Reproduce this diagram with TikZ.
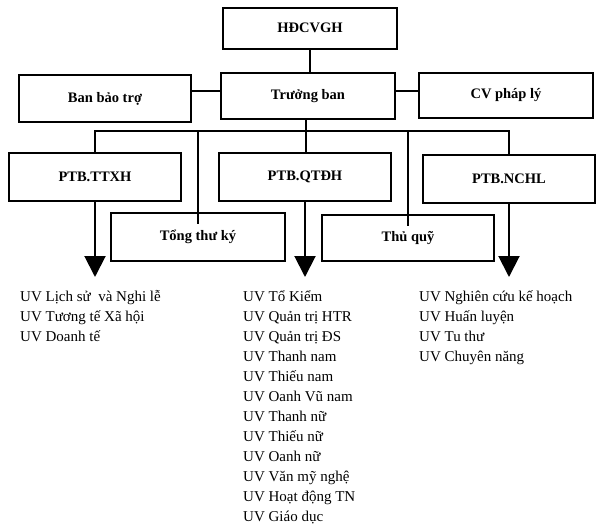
\documentclass[tikz,border=0pt]{standalone}
\usepackage{fontspec}
\setmainfont{Liberation Serif}
\usetikzlibrary{arrows.meta}
\begin{document}
\begin{tikzpicture}[x=1pt,y=-1pt,
  box/.style={draw,line width=2pt,rectangle,inner sep=0pt,font=\fontsize{14.5}{17}\selectfont\bfseries},
  conn/.style={line width=2pt},
  arr/.style={line width=2pt,-{Triangle[length=21pt,width=21pt]}},
  item/.style={anchor=base west,inner sep=0pt,font=\fontsize{15}{20}\selectfont}]
\useasboundingbox (0,0) rectangle (597,530);
% boxes
\node[box,minimum width=174pt,minimum height=41pt] (hd) at (310,28) {HĐCVGH};
\node[box,minimum width=174pt,minimum height=46pt] (tb) at (308,96) {Trưởng ban};
\node[box,minimum width=172pt,minimum height=47pt] (bbt) at (105,98.5) {Ban bảo trợ};
\node[box,minimum width=174pt,minimum height=45pt] (cv) at (506,95.5) {CV pháp lý};
\node[box,minimum width=172pt,minimum height=48pt] (ttxh) at (95,177) {PTB.TTXH};
\node[box,minimum width=172pt,minimum height=48pt] (qtdh) at (305,177) {PTB.QTĐH};
\node[box,minimum width=172pt,minimum height=48pt] (nchl) at (509,179) {PTB.NCHL};
\node[box,minimum width=174pt,minimum height=48pt] (tk) at (198,237) {Tổng thư ký};
\node[box,minimum width=172pt,minimum height=46pt] (tq) at (408,238) {Thủ quỹ};
% connectors
\coordinate (bus) at (306,131);
\coordinate (tipline) at (0,277);
\draw[conn] (hd.south) -- (hd.south |- tb.north);
\path ([yshift=5pt]tb.west) coordinate (tbw) ([yshift=5pt]tb.east) coordinate (tbe);
\draw[conn] (tbw) -- (tbw -| bbt.east);
\draw[conn] (tbe) -- (tbe -| cv.west);
\draw[conn] (tb.south -| bus) -- (qtdh.north -| bus);
\draw[conn] (ttxh.north) |- (bus) -| (nchl.north);
\draw[conn] (bus -| tk.north) -- ([yshift=-12pt]tk.north);
\draw[conn] (bus -| tq.north) -- ([yshift=-12pt]tq.north);
\draw[arr] (ttxh.south) -- (ttxh.south |- tipline);
\draw[arr] (qtdh.south) -- (qtdh.south |- tipline);
\draw[arr] (nchl.south) -- (nchl.south |- tipline);
% lists
\foreach \t [count=\i] in {UV Lịch sử\ \ và Nghi lễ, UV Tương tế Xã hội, UV Doanh tế}
  \node[item] (l\i) at (20,{281+20*\i}) {\t};
\foreach \t [count=\i] in {UV Tổ Kiểm, UV Quản trị HTR, UV Quản trị ĐS, UV Thanh nam, UV Thiếu nam, UV Oanh Vũ nam, UV Thanh nữ, UV Thiếu nữ, UV Oanh nữ, UV Văn mỹ nghệ, UV Hoạt động TN, UV Giáo dục}
  \node[item] (m\i) at (243,{281+20*\i}) {\t};
\foreach \t [count=\i] in {UV Nghiên cứu kế hoạch, UV Huấn luyện, UV Tu thư, UV Chuyên năng}
  \node[item] (r\i) at (419,{281+20*\i}) {\t};
\end{tikzpicture}
\end{document}
